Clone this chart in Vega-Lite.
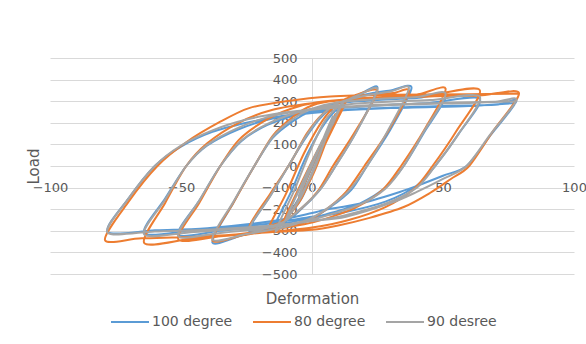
{
  "$schema": "https://vega.github.io/schema/vega-lite/v6.json",
  "width": 524,
  "height": 216,
  "autosize": "none",
  "padding": {"left": 50, "top": 58, "right": 12, "bottom": 70},
  "background": "white",
  "config": {
    "view": {"stroke": null},
    "font": "DejaVu Sans",
    "axis": {"labelFont": "DejaVu Sans", "titleFont": "DejaVu Sans", "labelColor": "#595959", "titleColor": "#595959", "titleFontWeight": "normal"},
    "legend": {"labelFont": "DejaVu Sans"}
  },
  "data": {
    "values": [
      {"s":"100 degree","x":0,"y":0},{"s":"100 degree","x":4,"y":110},{"s":"100 degree","x":-1,"y":-30},{"s":"100 degree","x":-5,"y":-140},{"s":"100 degree","x":1,"y":20},{"s":"100 degree","x":8,"y":220},{"s":"100 degree","x":0,"y":-40},{"s":"100 degree","x":-10,"y":-240},{"s":"100 degree","x":2,"y":60},{"s":"100 degree","x":12,"y":290},{"s":"100 degree","x":5,"y":110},{"s":"100 degree","x":-4,"y":-150},{"s":"100 degree","x":-15,"y":-300},
      {"s":"100 degree","x":-8,"y":-120},{"s":"100 degree","x":-2,"y":50},{"s":"100 degree","x":5,"y":200},{"s":"100 degree","x":12,"y":290},{"s":"100 degree","x":18,"y":330},{"s":"100 degree","x":25,"y":362},
      {"s":"100 degree","x":17,"y":160},{"s":"100 degree","x":9,"y":0},{"s":"100 degree","x":3,"y":-110},{"s":"100 degree","x":-5,"y":-210},{"s":"100 degree","x":-12,"y":-270},{"s":"100 degree","x":-24,"y":-300},
      {"s":"100 degree","x":-16,"y":-140},{"s":"100 degree","x":-9,"y":0},{"s":"100 degree","x":-3,"y":120},{"s":"100 degree","x":3,"y":220},{"s":"100 degree","x":10,"y":290},{"s":"100 degree","x":20,"y":330},{"s":"100 degree","x":30,"y":350},{"s":"100 degree","x":38,"y":362},
      {"s":"100 degree","x":30,"y":170},{"s":"100 degree","x":21,"y":0},{"s":"100 degree","x":15,"y":-110},{"s":"100 degree","x":7,"y":-190},{"s":"100 degree","x":0,"y":-240},{"s":"100 degree","x":-10,"y":-280},{"s":"100 degree","x":-25,"y":-315},{"s":"100 degree","x":-38,"y":-355},
      {"s":"100 degree","x":-30,"y":-170},{"s":"100 degree","x":-22,"y":0},{"s":"100 degree","x":-15,"y":130},{"s":"100 degree","x":-7,"y":210},{"s":"100 degree","x":0,"y":255},{"s":"100 degree","x":10,"y":290},{"s":"100 degree","x":25,"y":305},{"s":"100 degree","x":40,"y":315},{"s":"100 degree","x":51,"y":325},
      {"s":"100 degree","x":43,"y":160},{"s":"100 degree","x":35,"y":0},{"s":"100 degree","x":28,"y":-100},{"s":"100 degree","x":18,"y":-175},{"s":"100 degree","x":5,"y":-225},{"s":"100 degree","x":0,"y":-240},{"s":"100 degree","x":-15,"y":-275},{"s":"100 degree","x":-35,"y":-300},{"s":"100 degree","x":-51,"y":-318},
      {"s":"100 degree","x":-43,"y":-160},{"s":"100 degree","x":-35,"y":0},{"s":"100 degree","x":-27,"y":115},{"s":"100 degree","x":-17,"y":190},{"s":"100 degree","x":-5,"y":240},{"s":"100 degree","x":5,"y":262},{"s":"100 degree","x":25,"y":280},{"s":"100 degree","x":45,"y":292},{"s":"100 degree","x":64,"y":312},
      {"s":"100 degree","x":56,"y":150},{"s":"100 degree","x":47,"y":0},{"s":"100 degree","x":40,"y":-90},{"s":"100 degree","x":28,"y":-165},{"s":"100 degree","x":12,"y":-215},{"s":"100 degree","x":0,"y":-235},{"s":"100 degree","x":-20,"y":-272},{"s":"100 degree","x":-45,"y":-298},{"s":"100 degree","x":-64,"y":-312},
      {"s":"100 degree","x":-56,"y":-150},{"s":"100 degree","x":-48,"y":0},{"s":"100 degree","x":-40,"y":95},{"s":"100 degree","x":-28,"y":170},{"s":"100 degree","x":-15,"y":220},{"s":"100 degree","x":0,"y":245},{"s":"100 degree","x":20,"y":265},{"s":"100 degree","x":50,"y":278},{"s":"100 degree","x":70,"y":283},{"s":"100 degree","x":78,"y":300},
      {"s":"100 degree","x":68,"y":140},{"s":"100 degree","x":59,"y":0},{"s":"100 degree","x":50,"y":-45},{"s":"100 degree","x":40,"y":-92},{"s":"100 degree","x":32,"y":-126},{"s":"100 degree","x":18,"y":-175},{"s":"100 degree","x":5,"y":-203},{"s":"100 degree","x":0,"y":-218},{"s":"100 degree","x":-15,"y":-255},{"s":"100 degree","x":-40,"y":-288},{"s":"100 degree","x":-60,"y":-298},{"s":"100 degree","x":-78,"y":-305},
      {"s":"100 degree","x":-70,"y":-150},{"s":"100 degree","x":-60,"y":0},{"s":"100 degree","x":-50,"y":90},{"s":"100 degree","x":-38,"y":158},{"s":"100 degree","x":-25,"y":200},{"s":"100 degree","x":-12,"y":230},{"s":"100 degree","x":0,"y":248},{"s":"100 degree","x":30,"y":268},{"s":"100 degree","x":60,"y":278},{"s":"100 degree","x":78,"y":292},

      {"s":"80 degree","x":0,"y":0},{"s":"80 degree","x":5,"y":130},{"s":"80 degree","x":-1,"y":-30},{"s":"80 degree","x":-5,"y":-150},{"s":"80 degree","x":1,"y":30},{"s":"80 degree","x":9,"y":240},{"s":"80 degree","x":0,"y":-50},{"s":"80 degree","x":-11,"y":-260},{"s":"80 degree","x":2,"y":70},{"s":"80 degree","x":13,"y":300},{"s":"80 degree","x":5,"y":100},{"s":"80 degree","x":-5,"y":-170},{"s":"80 degree","x":-17,"y":-305},
      {"s":"80 degree","x":-10,"y":-130},{"s":"80 degree","x":-3,"y":60},{"s":"80 degree","x":4,"y":210},{"s":"80 degree","x":10,"y":290},{"s":"80 degree","x":17,"y":330},{"s":"80 degree","x":25,"y":345},
      {"s":"80 degree","x":16,"y":150},{"s":"80 degree","x":8,"y":0},{"s":"80 degree","x":2,"y":-120},{"s":"80 degree","x":-6,"y":-215},{"s":"80 degree","x":-14,"y":-270},{"s":"80 degree","x":-24,"y":-285},
      {"s":"80 degree","x":-16,"y":-130},{"s":"80 degree","x":-8,"y":20},{"s":"80 degree","x":-2,"y":150},{"s":"80 degree","x":4,"y":240},{"s":"80 degree","x":12,"y":300},{"s":"80 degree","x":22,"y":330},{"s":"80 degree","x":31,"y":338},{"s":"80 degree","x":37,"y":345},
      {"s":"80 degree","x":29,"y":160},{"s":"80 degree","x":20,"y":0},{"s":"80 degree","x":13,"y":-120},{"s":"80 degree","x":5,"y":-205},{"s":"80 degree","x":-2,"y":-255},{"s":"80 degree","x":-12,"y":-290},{"s":"80 degree","x":-26,"y":-320},{"s":"80 degree","x":-38,"y":-345},
      {"s":"80 degree","x":-30,"y":-170},{"s":"80 degree","x":-22,"y":0},{"s":"80 degree","x":-15,"y":140},{"s":"80 degree","x":-7,"y":230},{"s":"80 degree","x":0,"y":280},{"s":"80 degree","x":10,"y":305},{"s":"80 degree","x":25,"y":318},{"s":"80 degree","x":40,"y":330},{"s":"80 degree","x":51,"y":358},
      {"s":"80 degree","x":43,"y":170},{"s":"80 degree","x":34,"y":0},{"s":"80 degree","x":27,"y":-110},{"s":"80 degree","x":17,"y":-190},{"s":"80 degree","x":5,"y":-245},{"s":"80 degree","x":-3,"y":-270},{"s":"80 degree","x":-18,"y":-300},{"s":"80 degree","x":-35,"y":-325},{"s":"80 degree","x":-51,"y":-340},
      {"s":"80 degree","x":-43,"y":-170},{"s":"80 degree","x":-35,"y":0},{"s":"80 degree","x":-28,"y":120},{"s":"80 degree","x":-18,"y":210},{"s":"80 degree","x":-8,"y":265},{"s":"80 degree","x":2,"y":295},{"s":"80 degree","x":20,"y":315},{"s":"80 degree","x":45,"y":330},{"s":"80 degree","x":64,"y":352},
      {"s":"80 degree","x":55,"y":160},{"s":"80 degree","x":46,"y":0},{"s":"80 degree","x":39,"y":-105},{"s":"80 degree","x":28,"y":-190},{"s":"80 degree","x":14,"y":-250},{"s":"80 degree","x":0,"y":-285},{"s":"80 degree","x":-20,"y":-310},{"s":"80 degree","x":-45,"y":-335},{"s":"80 degree","x":-64,"y":-357},
      {"s":"80 degree","x":-56,"y":-170},{"s":"80 degree","x":-48,"y":0},{"s":"80 degree","x":-40,"y":105},{"s":"80 degree","x":-28,"y":200},{"s":"80 degree","x":-15,"y":260},{"s":"80 degree","x":0,"y":290},{"s":"80 degree","x":20,"y":312},{"s":"80 degree","x":45,"y":322},{"s":"80 degree","x":65,"y":328},{"s":"80 degree","x":79,"y":338},
      {"s":"80 degree","x":69,"y":160},{"s":"80 degree","x":60,"y":0},{"s":"80 degree","x":53,"y":-60},{"s":"80 degree","x":45,"y":-125},{"s":"80 degree","x":35,"y":-190},{"s":"80 degree","x":22,"y":-240},{"s":"80 degree","x":10,"y":-275},{"s":"80 degree","x":0,"y":-295},{"s":"80 degree","x":-15,"y":-306},{"s":"80 degree","x":-40,"y":-325},{"s":"80 degree","x":-65,"y":-335},{"s":"80 degree","x":-79,"y":-343},
      {"s":"80 degree","x":-70,"y":-165},{"s":"80 degree","x":-59,"y":0},{"s":"80 degree","x":-48,"y":110},{"s":"80 degree","x":-35,"y":205},{"s":"80 degree","x":-24,"y":268},{"s":"80 degree","x":-10,"y":300},{"s":"80 degree","x":7,"y":322},{"s":"80 degree","x":30,"y":330},{"s":"80 degree","x":60,"y":332},{"s":"80 degree","x":79,"y":335},

      {"s":"90 desree","x":0,"y":0},{"s":"90 desree","x":4,"y":120},{"s":"90 desree","x":-1,"y":-20},{"s":"90 desree","x":-5,"y":-140},{"s":"90 desree","x":1,"y":30},{"s":"90 desree","x":8,"y":230},{"s":"90 desree","x":0,"y":-40},{"s":"90 desree","x":-10,"y":-250},{"s":"90 desree","x":2,"y":70},{"s":"90 desree","x":12,"y":300},{"s":"90 desree","x":5,"y":120},{"s":"90 desree","x":-4,"y":-140},{"s":"90 desree","x":-14,"y":-305},
      {"s":"90 desree","x":-7,"y":-120},{"s":"90 desree","x":-1,"y":60},{"s":"90 desree","x":5,"y":210},{"s":"90 desree","x":12,"y":295},{"s":"90 desree","x":18,"y":330},{"s":"90 desree","x":25,"y":355},
      {"s":"90 desree","x":17,"y":160},{"s":"90 desree","x":9,"y":0},{"s":"90 desree","x":3,"y":-110},{"s":"90 desree","x":-5,"y":-205},{"s":"90 desree","x":-12,"y":-265},{"s":"90 desree","x":-24,"y":-295},
      {"s":"90 desree","x":-16,"y":-140},{"s":"90 desree","x":-9,"y":0},{"s":"90 desree","x":-3,"y":125},{"s":"90 desree","x":3,"y":225},{"s":"90 desree","x":10,"y":292},{"s":"90 desree","x":20,"y":325},{"s":"90 desree","x":30,"y":345},{"s":"90 desree","x":37,"y":360},
      {"s":"90 desree","x":29,"y":165},{"s":"90 desree","x":21,"y":0},{"s":"90 desree","x":14,"y":-115},{"s":"90 desree","x":6,"y":-195},{"s":"90 desree","x":-1,"y":-245},{"s":"90 desree","x":-11,"y":-285},{"s":"90 desree","x":-25,"y":-315},{"s":"90 desree","x":-38,"y":-340},
      {"s":"90 desree","x":-30,"y":-165},{"s":"90 desree","x":-22,"y":0},{"s":"90 desree","x":-15,"y":135},{"s":"90 desree","x":-7,"y":220},{"s":"90 desree","x":0,"y":265},{"s":"90 desree","x":10,"y":295},{"s":"90 desree","x":25,"y":310},{"s":"90 desree","x":40,"y":320},{"s":"90 desree","x":51,"y":335},
      {"s":"90 desree","x":43,"y":165},{"s":"90 desree","x":35,"y":0},{"s":"90 desree","x":28,"y":-105},{"s":"90 desree","x":18,"y":-180},{"s":"90 desree","x":5,"y":-232},{"s":"90 desree","x":-1,"y":-250},{"s":"90 desree","x":-16,"y":-285},{"s":"90 desree","x":-35,"y":-310},{"s":"90 desree","x":-51,"y":-325},
      {"s":"90 desree","x":-43,"y":-160},{"s":"90 desree","x":-35,"y":0},{"s":"90 desree","x":-27,"y":118},{"s":"90 desree","x":-17,"y":195},{"s":"90 desree","x":-5,"y":250},{"s":"90 desree","x":5,"y":275},{"s":"90 desree","x":25,"y":295},{"s":"90 desree","x":45,"y":305},{"s":"90 desree","x":64,"y":322},
      {"s":"90 desree","x":56,"y":150},{"s":"90 desree","x":47,"y":0},{"s":"90 desree","x":40,"y":-100},{"s":"90 desree","x":28,"y":-175},{"s":"90 desree","x":12,"y":-230},{"s":"90 desree","x":0,"y":-255},{"s":"90 desree","x":-20,"y":-285},{"s":"90 desree","x":-45,"y":-305},{"s":"90 desree","x":-64,"y":-318},
      {"s":"90 desree","x":-56,"y":-155},{"s":"90 desree","x":-48,"y":0},{"s":"90 desree","x":-40,"y":98},{"s":"90 desree","x":-28,"y":178},{"s":"90 desree","x":-15,"y":232},{"s":"90 desree","x":0,"y":260},{"s":"90 desree","x":20,"y":280},{"s":"90 desree","x":50,"y":292},{"s":"90 desree","x":70,"y":298},{"s":"90 desree","x":78,"y":305},
      {"s":"90 desree","x":68,"y":145},{"s":"90 desree","x":59,"y":0},{"s":"90 desree","x":50,"y":-60},{"s":"90 desree","x":40,"y":-120},{"s":"90 desree","x":30,"y":-172},{"s":"90 desree","x":13,"y":-235},{"s":"90 desree","x":0,"y":-255},{"s":"90 desree","x":-15,"y":-275},{"s":"90 desree","x":-40,"y":-295},{"s":"90 desree","x":-60,"y":-303},{"s":"90 desree","x":-78,"y":-308},
      {"s":"90 desree","x":-70,"y":-150},{"s":"90 desree","x":-60,"y":0},{"s":"90 desree","x":-50,"y":95},{"s":"90 desree","x":-38,"y":165},{"s":"90 desree","x":-25,"y":215},{"s":"90 desree","x":-12,"y":245},{"s":"90 desree","x":0,"y":262},{"s":"90 desree","x":30,"y":282},{"s":"90 desree","x":60,"y":292},{"s":"90 desree","x":78,"y":300}
    ]
  },
  "mark": {"type": "line", "strokeWidth": 2, "interpolate": "cardinal", "tension": 0.15, "clip": true},
  "encoding": {
    "x": {
      "field": "x", "type": "quantitative",
      "scale": {"domain": [-100, 100], "nice": false, "zero": false},
      "axis": {
        "title": "Deformation", "titleFontSize": 15, "titleY": 111, "titleBaseline": "middle",
        "values": [-100, -50, 0, 50, 100], "grid": false, "domain": false, "ticks": false,
        "offset": -86.4, "labelBaseline": "middle", "labelPadding": 0, "labelFontSize": 13,
        "labelFlush": false
      }
    },
    "y": {
      "field": "y", "type": "quantitative",
      "scale": {"domain": [-500, 500], "nice": false, "zero": false},
      "axis": {
        "title": "Load", "titleFontSize": 15, "titleX": -279, "titleY": 108, "titleAlign": "center", "titleBaseline": "middle",
        "values": [-500, -400, -300, -200, -100, 0, 100, 200, 300, 400, 500],
        "grid": true, "gridColor": "#d9d9d9", "gridWidth": 1,
        "domain": true, "domainColor": "#d9d9d9", "ticks": false,
        "offset": -262, "labelPadding": 15, "labelFontSize": 13
      }
    },
    "color": {
      "field": "s", "type": "nominal",
      "scale": {"domain": ["100 degree", "80 degree", "90 desree"], "range": ["#5B9BD5", "#ED7D31", "#A5A5A5"]},
      "legend": {
        "title": null, "orient": "none", "direction": "horizontal", "legendX": 60, "legendY": 244,
        "symbolType": "stroke", "symbolSize": 1444, "symbolStrokeWidth": 2, "labelFontSize": 14,
        "labelColor": "#595959", "columnPadding": 16, "labelOffset": 2
      }
    },
    "order": {"value": null}
  }
}
